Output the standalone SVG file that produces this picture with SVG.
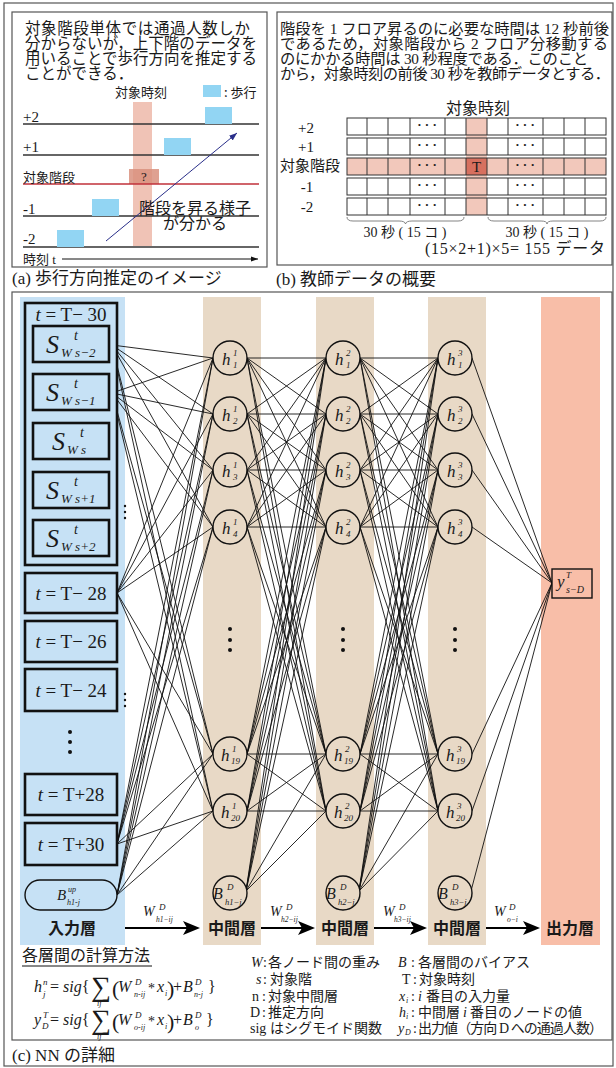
<svg xmlns="http://www.w3.org/2000/svg" width="616" height="1068" viewBox="0 0 616 1068">
<defs>
<style>
text{fill:#1a1a1a}
.s{font-family:"Liberation Serif","Noto Sans CJK JP",serif}
.j{font-family:"Noto Sans CJK JP","Noto Sans CJK SC",sans-serif}
.i{font-style:italic}
.box{fill:#c6e1f5;stroke:#111;stroke-width:2.6}
.node{fill:#e8d9c6;stroke:#111;stroke-width:1.4}
.ln{fill:none;stroke:#111;stroke-width:0.9}
.frame{fill:none;stroke:#555;stroke-width:1.2}
.hl{fill:none;stroke:#333;stroke-width:1.4}
.walk{fill:#92d5f3}
.dot{fill:#111}
.arr{stroke:#000;stroke-width:2.2}
.ah{fill:#000}
.grid{fill:none;stroke:#333;stroke-width:1}
</style>
<marker id="nav" markerWidth="9" markerHeight="8" refX="8" refY="4" orient="auto" markerUnits="userSpaceOnUse"><path d="M0 1L8 4L0 7z" fill="#2a2f8a"/></marker>
<marker id="tm" markerWidth="8" markerHeight="8" refX="7" refY="4" orient="auto" markerUnits="userSpaceOnUse"><path d="M0 1.5L7 4L0 6.5z" fill="#111"/></marker>
</defs>
<rect x="0" y="0" width="616" height="1068" fill="#fff"/>
<rect x="4" y="3" width="609" height="1063" class="frame"/>

<!-- Panel (a) -->
<g id="panel-a">
<rect x="12" y="12" width="255" height="255" class="frame"/>
<text class="j" font-size="15.5">
<tspan x="25" y="34" textLength="225">対象階段単体では通過人数しか</tspan>
<tspan x="25" y="49" textLength="232">分からないが，上下階のデータを</tspan>
<tspan x="25" y="64" textLength="232">用いることで歩行方向を推定する</tspan>
<tspan x="25" y="79">ことができる．</tspan>
</text>
<text class="j" font-size="13" x="115" y="97" fill="#333">対象時刻</text>
<rect x="203" y="85" width="18" height="12" class="walk"/>
<text class="j" font-size="13" x="224" y="97">: 歩行</text>
<rect x="133" y="102" width="19" height="144" fill="#f0c3b6"/>
<rect x="129" y="169" width="30" height="15" fill="#d9907e" opacity="0.85"/>
<text class="s" font-size="13" x="144" y="181" text-anchor="middle" fill="#555">?</text>
<line x1="23" y1="124" x2="259" y2="124" class="hl" stroke="#666"/>
<line x1="23" y1="155" x2="259" y2="155" class="hl"/>
<line x1="23" y1="184" x2="259" y2="184" class="hl" style="stroke:#c0313a"/>
<line x1="23" y1="216" x2="259" y2="216" class="hl"/>
<line x1="23" y1="247" x2="259" y2="247" class="hl"/>
<rect x="205" y="107" width="27" height="17" class="walk"/>
<rect x="164" y="138" width="27" height="17" class="walk"/>
<rect x="92" y="199" width="27" height="17" class="walk"/>
<rect x="57" y="230" width="27" height="17" class="walk"/>
<text class="s" font-size="15" x="23" y="122">+2</text>
<text class="s" font-size="15" x="23" y="152">+1</text>
<text class="j" font-size="13" x="23" y="182">対象階段</text>
<text class="s" font-size="15" x="23" y="214">-1</text>
<text class="s" font-size="15" x="23" y="244">-2</text>
<line x1="106" y1="241" x2="237" y2="133" stroke="#2a2f8a" stroke-width="1" marker-end="url(#nav)"/>
<text class="j" font-size="16" x="139" y="214">階段を昇る様子</text>
<text class="j" font-size="16" x="163" y="229">が分かる</text>
<text class="s" font-size="13" x="23" y="264">時刻 t</text>
<line x1="62" y1="259" x2="258" y2="259" stroke="#111" stroke-width="1" marker-end="url(#tm)"/>
<text class="s" font-size="17" x="12" y="284">(a) 歩行方向推定のイメージ</text>
</g>

<!-- Panel (b) -->
<g id="panel-b">
<rect x="277" y="12" width="335" height="253" class="frame"/>
<text class="s" font-size="15.3">
<tspan x="280" y="34" textLength="329">階段を 1 フロア昇るのに必要な時間は 12 秒前後</tspan>
<tspan x="280" y="49" textLength="328">であるため，対象階段から 2 フロア分移動する</tspan>
<tspan x="280" y="64" textLength="308">のにかかる時間は 30 秒程度である．このこと</tspan>
<tspan x="280" y="79" textLength="330">から，対象時刻の前後 30 秒を教師データとする．</tspan>
</text>
<text class="j" font-size="16" x="478" y="114" text-anchor="middle">対象時刻</text>
<rect x="347" y="118" width="259" height="17" fill="#fff"/>
<rect x="347" y="138" width="259" height="17" fill="#fff"/>
<rect x="347" y="158" width="259" height="17" fill="#f2c8bb"/>
<rect x="347" y="178" width="259" height="17" fill="#fff"/>
<rect x="347" y="198" width="259" height="17" fill="#fff"/>
<rect x="466" y="118" width="21" height="97" fill="#f2c8bb"/>
<rect x="466" y="158" width="21" height="17" fill="#d7705f"/>
<rect x="347" y="118" width="259" height="17" class="grid"/>
<rect x="347" y="138" width="259" height="17" class="grid"/>
<rect x="347" y="158" width="259" height="17" class="grid"/>
<rect x="347" y="178" width="259" height="17" class="grid"/>
<rect x="347" y="198" width="259" height="17" class="grid"/>
<path class="grid" d="M367 118v17m0 3v17m0 3v17m0 3v17m0 3v17M388 118v17m0 3v17m0 3v17m0 3v17m0 3v17M410 118v17m0 3v17m0 3v17m0 3v17m0 3v17M445 118v17m0 3v17m0 3v17m0 3v17m0 3v17M466 118v17m0 3v17m0 3v17m0 3v17m0 3v17M487 118v17m0 3v17m0 3v17m0 3v17m0 3v17M508 118v17m0 3v17m0 3v17m0 3v17m0 3v17M543 118v17m0 3v17m0 3v17m0 3v17m0 3v17M564 118v17m0 3v17m0 3v17m0 3v17m0 3v17M585 118v17m0 3v17m0 3v17m0 3v17m0 3v17"/>
<g class="s" font-size="13" font-weight="bold" text-anchor="middle">
<text x="427" y="129">· · ·</text><text x="525" y="129">· · ·</text>
<text x="427" y="149">· · ·</text><text x="525" y="149">· · ·</text>
<text x="427" y="169">· · ·</text><text x="525" y="169">· · ·</text>
<text x="427" y="189">· · ·</text><text x="525" y="189">· · ·</text>
<text x="427" y="209">· · ·</text><text x="525" y="209">· · ·</text>
</g>
<text class="s" font-size="15" x="476.5" y="172" text-anchor="middle">T</text>
<text class="s" font-size="15" x="306" y="133" text-anchor="middle">+2</text>
<text class="s" font-size="15" x="306" y="152" text-anchor="middle">+1</text>
<text class="j" font-size="15" x="280" y="171">対象階段</text>
<text class="s" font-size="15" x="307" y="192" text-anchor="middle">-1</text>
<text class="s" font-size="15" x="307" y="212" text-anchor="middle">-2</text>
<path d="M347 217Q347 221 353 221L399 221Q405 221 405.5 224Q406 221 412 221L458 221Q464 221 464 217" fill="none" stroke="#777" stroke-width="0.9"/>
<path d="M488 217Q488 221 494 221L541 221Q547 221 547 224Q547 221 553 221L600 221Q606 221 606 217" fill="none" stroke="#777" stroke-width="0.9"/>
<text class="s" font-size="14" x="405" y="237" text-anchor="middle">30 秒 ( 15 コ )</text>
<text class="s" font-size="14" x="547" y="237" text-anchor="middle">30 秒 ( 15 コ )</text>
<text class="s" font-size="16" x="425" y="254" textLength="180">(15×2+1)×5= 155 データ</text>
<text class="s" font-size="17" x="276" y="285">(b) 教師データの概要</text>
</g>

<!-- Panel (c) -->
<g id="panel-c-bg">
<rect x="12" y="292" width="600" height="748" class="frame"/>
<rect x="20" y="297" width="105" height="648" fill="#c6e1f5"/>
<rect x="203" y="297" width="58" height="648" fill="#e8d9c6"/>
<rect x="316" y="297" width="58" height="648" fill="#e8d9c6"/>
<rect x="428" y="297" width="58" height="648" fill="#e8d9c6"/>
<rect x="541" y="297" width="59" height="648" fill="#f8bea8"/>
</g>

<g id="connectors">
<path class="ln" d="M112 345L213 358M112 345L213 414M112 345L213 470M112 345L213 527M112 345L213 754M112 345L213 811M112 393L213 358M112 393L213 414M112 393L213 470M112 393L213 527M112 393L213 754M112 393L213 811M117 593L213 358M117 593L213 414M117 593L213 470M117 593L213 527M117 593L213 754M117 593L213 811M117 844L213 358M117 844L213 414M117 844L213 470M117 844L213 527M117 844L213 754M117 844L213 811M117 895L213 358M117 895L213 414M117 895L213 470M117 895L213 527M117 895L213 754M117 895L213 811"/>
<path class="ln" d="M247 358L326 358M247 358L326 414M247 358L326 470M247 358L326 527M247 358L326 754M247 358L326 811M247 414L326 358M247 414L326 414M247 414L326 470M247 414L326 527M247 414L326 754M247 414L326 811M247 470L326 358M247 470L326 414M247 470L326 470M247 470L326 527M247 470L326 754M247 470L326 811M247 527L326 358M247 527L326 414M247 527L326 470M247 527L326 527M247 527L326 754M247 527L326 811M247 754L326 358M247 754L326 414M247 754L326 470M247 754L326 527M247 754L326 754M247 754L326 811M247 811L326 358M247 811L326 414M247 811L326 470M247 811L326 527M247 811L326 754M247 811L326 811M246 891L326 358M246 891L326 414M246 891L326 470M246 891L326 527M246 891L326 754M246 891L326 811"/>
<path class="ln" d="M360 358L438 358M360 358L438 414M360 358L438 470M360 358L438 527M360 358L438 754M360 358L438 811M360 414L438 358M360 414L438 414M360 414L438 470M360 414L438 527M360 414L438 754M360 414L438 811M360 470L438 358M360 470L438 414M360 470L438 470M360 470L438 527M360 470L438 754M360 470L438 811M360 527L438 358M360 527L438 414M360 527L438 470M360 527L438 527M360 527L438 754M360 527L438 811M360 754L438 358M360 754L438 414M360 754L438 470M360 754L438 527M360 754L438 754M360 754L438 811M360 811L438 358M360 811L438 414M360 811L438 470M360 811L438 527M360 811L438 754M360 811L438 811M359 891L438 358M359 891L438 414M359 891L438 470M359 891L438 527M359 891L438 754M359 891L438 811"/>
<path class="ln" d="M472 358L552 583M472 414L552 583M472 470L552 583M472 527L552 583M472 754L552 583M472 811L552 583M471 891L552 583"/>
<line x1="125" y1="928" x2="188" y2="928" class="arr"/><path class="ah" d="M200 928L183 921L187 928L183 935z"/>
<line x1="261" y1="928" x2="303" y2="928" class="arr"/><path class="ah" d="M315 928L298 921L302 928L298 935z"/>
<line x1="374" y1="928" x2="415" y2="928" class="arr"/><path class="ah" d="M427 928L410 921L414 928L410 935z"/>
<line x1="486" y1="928" x2="528" y2="928" class="arr"/><path class="ah" d="M540 928L523 921L527 928L523 935z"/>
</g>

<g id="input-layer">
<rect x="25" y="303" width="92" height="262" class="box"/>
<text class="s" font-size="19" x="71" y="321" text-anchor="middle"><tspan class="i">t</tspan> = T− 30</text>
<g id="in-s-2"><rect x="33" y="326" width="76" height="36" class="box"/><text class="s i" font-size="26" x="46" y="353">S</text><text class="s i" font-size="14" x="74" y="340">t</text><text class="s i" font-size="13" x="61" y="357">W s−2</text></g>
<g id="in-s-1"><rect x="33" y="374" width="76" height="36" class="box"/><text class="s i" font-size="26" x="46" y="401">S</text><text class="s i" font-size="14" x="74" y="388">t</text><text class="s i" font-size="13" x="61" y="405">W s−1</text></g>
<g id="in-s"><rect x="33" y="423" width="76" height="36" class="box"/><text class="s i" font-size="26" x="52" y="450">S</text><text class="s i" font-size="14" x="80" y="437">t</text><text class="s i" font-size="13" x="67" y="454">W s</text></g>
<g id="in-s+1"><rect x="33" y="472" width="76" height="36" class="box"/><text class="s i" font-size="26" x="46" y="499">S</text><text class="s i" font-size="14" x="74" y="486">t</text><text class="s i" font-size="13" x="61" y="503">W s+1</text></g>
<g id="in-s+2"><rect x="33" y="520" width="76" height="36" class="box"/><text class="s i" font-size="26" x="46" y="547">S</text><text class="s i" font-size="14" x="74" y="534">t</text><text class="s i" font-size="13" x="61" y="551">W s+2</text></g>
<g id="in-t-28"><rect x="25" y="573" width="92" height="40" class="box"/><text class="s" font-size="19" x="71" y="600" text-anchor="middle"><tspan class="i">t</tspan> = T− 28</text></g>
<g id="in-t-26"><rect x="25" y="621" width="92" height="41" class="box"/><text class="s" font-size="19" x="71" y="648" text-anchor="middle"><tspan class="i">t</tspan> = T− 26</text></g>
<g id="in-t-24"><rect x="25" y="669" width="92" height="42" class="box"/><text class="s" font-size="19" x="71" y="697" text-anchor="middle"><tspan class="i">t</tspan> = T− 24</text></g>
<circle cx="70" cy="732" r="2" class="dot"/><circle cx="70" cy="742" r="2" class="dot"/><circle cx="70" cy="752" r="2" class="dot"/>
<g id="in-t+28"><rect x="25" y="774" width="92" height="41" class="box"/><text class="s" font-size="19" x="71" y="801" text-anchor="middle"><tspan class="i">t</tspan> = T+28</text></g>
<g id="in-t+30"><rect x="25" y="823" width="92" height="42" class="box"/><text class="s" font-size="19" x="71" y="851" text-anchor="middle"><tspan class="i">t</tspan> = T+30</text></g>
<g id="in-bias"><rect x="25" y="880" width="92" height="30" rx="15" fill="#c6e1f5" stroke="#111" stroke-width="1.4"/><text class="s i" font-size="15" x="57" y="900">B</text><text class="s i" font-size="8" x="68" y="892">up</text><text class="s i" font-size="8" x="67" y="905">h1-j</text></g>
<circle cx="125" cy="506" r="1.2" class="dot"/><circle cx="125" cy="512" r="1.2" class="dot"/><circle cx="125" cy="518" r="1.2" class="dot"/>
<circle cx="125" cy="694" r="1.2" class="dot"/><circle cx="125" cy="700" r="1.2" class="dot"/><circle cx="125" cy="706" r="1.2" class="dot"/>
<text class="j" font-size="16" font-weight="bold" x="72" y="934" text-anchor="middle">入力層</text>
</g>

<g id="hidden-1">
<g id="h1-1"><circle cx="230" cy="358" r="17" class="node"/><text class="s i" font-size="17" x="222" y="365">h</text><text class="s i" font-size="9" x="233" y="356">1</text><text class="s i" font-size="9" x="233" y="368">1</text></g>
<g id="h1-2"><circle cx="230" cy="414" r="17" class="node"/><text class="s i" font-size="17" x="222" y="421">h</text><text class="s i" font-size="9" x="233" y="412">1</text><text class="s i" font-size="9" x="233" y="424">2</text></g>
<g id="h1-3"><circle cx="230" cy="470" r="17" class="node"/><text class="s i" font-size="17" x="222" y="477">h</text><text class="s i" font-size="9" x="233" y="468">1</text><text class="s i" font-size="9" x="233" y="480">3</text></g>
<g id="h1-4"><circle cx="230" cy="527" r="17" class="node"/><text class="s i" font-size="17" x="222" y="534">h</text><text class="s i" font-size="9" x="233" y="525">1</text><text class="s i" font-size="9" x="233" y="537">4</text></g>
<circle cx="230" cy="629" r="2" class="dot"/><circle cx="230" cy="640" r="2" class="dot"/><circle cx="230" cy="650" r="2" class="dot"/>
<g id="h1-19"><circle cx="230" cy="754" r="17" class="node"/><text class="s i" font-size="17" x="221" y="761">h</text><text class="s i" font-size="9" x="232" y="752">1</text><text class="s i" font-size="9" x="231" y="764">19</text></g>
<g id="h1-20"><circle cx="230" cy="811" r="17" class="node"/><text class="s i" font-size="17" x="221" y="818">h</text><text class="s i" font-size="9" x="232" y="809">1</text><text class="s i" font-size="9" x="231" y="821">20</text></g>
<g id="b1"><circle cx="230" cy="893" r="17" class="node"/><text class="s i" font-size="16" x="213" y="899">B</text><text class="s i" font-size="9" x="227" y="890">D</text><text class="s i" font-size="8.5" x="225" y="905">h1−j</text></g>
<text class="j" font-size="16" font-weight="bold" x="232" y="934" text-anchor="middle">中間層</text>
</g>

<g id="hidden-2">
<g id="h2-1"><circle cx="343" cy="358" r="17" class="node"/><text class="s i" font-size="17" x="335" y="365">h</text><text class="s i" font-size="9" x="346" y="356">2</text><text class="s i" font-size="9" x="346" y="368">1</text></g>
<g id="h2-2"><circle cx="343" cy="414" r="17" class="node"/><text class="s i" font-size="17" x="335" y="421">h</text><text class="s i" font-size="9" x="346" y="412">2</text><text class="s i" font-size="9" x="346" y="424">2</text></g>
<g id="h2-3"><circle cx="343" cy="470" r="17" class="node"/><text class="s i" font-size="17" x="335" y="477">h</text><text class="s i" font-size="9" x="346" y="468">2</text><text class="s i" font-size="9" x="346" y="480">3</text></g>
<g id="h2-4"><circle cx="343" cy="527" r="17" class="node"/><text class="s i" font-size="17" x="335" y="534">h</text><text class="s i" font-size="9" x="346" y="525">2</text><text class="s i" font-size="9" x="346" y="537">4</text></g>
<circle cx="343" cy="629" r="2" class="dot"/><circle cx="343" cy="640" r="2" class="dot"/><circle cx="343" cy="650" r="2" class="dot"/>
<g id="h2-19"><circle cx="343" cy="754" r="17" class="node"/><text class="s i" font-size="17" x="334" y="761">h</text><text class="s i" font-size="9" x="345" y="752">2</text><text class="s i" font-size="9" x="344" y="764">19</text></g>
<g id="h2-20"><circle cx="343" cy="811" r="17" class="node"/><text class="s i" font-size="17" x="334" y="818">h</text><text class="s i" font-size="9" x="345" y="809">2</text><text class="s i" font-size="9" x="344" y="821">20</text></g>
<g id="b2"><circle cx="343" cy="893" r="17" class="node"/><text class="s i" font-size="16" x="326" y="899">B</text><text class="s i" font-size="9" x="340" y="890">D</text><text class="s i" font-size="8.5" x="338" y="905">h2−j</text></g>
<text class="j" font-size="16" font-weight="bold" x="345" y="934" text-anchor="middle">中間層</text>
</g>

<g id="hidden-3">
<g id="h3-1"><circle cx="455" cy="358" r="17" class="node"/><text class="s i" font-size="17" x="447" y="365">h</text><text class="s i" font-size="9" x="458" y="356">3</text><text class="s i" font-size="9" x="458" y="368">1</text></g>
<g id="h3-2"><circle cx="455" cy="414" r="17" class="node"/><text class="s i" font-size="17" x="447" y="421">h</text><text class="s i" font-size="9" x="458" y="412">3</text><text class="s i" font-size="9" x="458" y="424">2</text></g>
<g id="h3-3"><circle cx="455" cy="470" r="17" class="node"/><text class="s i" font-size="17" x="447" y="477">h</text><text class="s i" font-size="9" x="458" y="468">3</text><text class="s i" font-size="9" x="458" y="480">3</text></g>
<g id="h3-4"><circle cx="455" cy="527" r="17" class="node"/><text class="s i" font-size="17" x="447" y="534">h</text><text class="s i" font-size="9" x="458" y="525">3</text><text class="s i" font-size="9" x="458" y="537">4</text></g>
<circle cx="455" cy="629" r="2" class="dot"/><circle cx="455" cy="640" r="2" class="dot"/><circle cx="455" cy="650" r="2" class="dot"/>
<g id="h3-19"><circle cx="455" cy="754" r="17" class="node"/><text class="s i" font-size="17" x="446" y="761">h</text><text class="s i" font-size="9" x="457" y="752">3</text><text class="s i" font-size="9" x="456" y="764">19</text></g>
<g id="h3-20"><circle cx="455" cy="811" r="17" class="node"/><text class="s i" font-size="17" x="446" y="818">h</text><text class="s i" font-size="9" x="457" y="809">3</text><text class="s i" font-size="9" x="456" y="821">20</text></g>
<g id="b3"><circle cx="455" cy="893" r="17" class="node"/><text class="s i" font-size="16" x="438" y="899">B</text><text class="s i" font-size="9" x="452" y="890">D</text><text class="s i" font-size="8.5" x="450" y="905">h3−j</text></g>
<text class="j" font-size="16" font-weight="bold" x="457" y="934" text-anchor="middle">中間層</text>
</g>

<g id="output">
<rect x="552" y="569" width="40" height="29" fill="#f8bea8" stroke="#111" stroke-width="1.4"/>
<text class="s i" font-size="17" x="557" y="587">y</text><text class="s i" font-size="9" x="566" y="578">T</text><text class="s i" font-size="10" x="566" y="593">s−D</text>
<text class="j" font-size="16" font-weight="bold" x="570" y="934" text-anchor="middle">出力層</text>
</g>

<g id="weight-labels">
<text class="s i" font-size="14" x="143" y="916">W</text><text class="s i" font-size="9" x="159" y="910">D</text><text class="s i" font-size="7.5" x="156" y="922">h1−ij</text>
<text class="s i" font-size="14" x="270" y="916">W</text><text class="s i" font-size="9" x="286" y="910">D</text><text class="s i" font-size="7.5" x="281" y="922">h2−ij</text>
<text class="s i" font-size="14" x="383" y="916">W</text><text class="s i" font-size="9" x="399" y="910">D</text><text class="s i" font-size="7.5" x="394" y="922">h3−ij</text>
<text class="s i" font-size="14" x="494" y="916">W</text><text class="s i" font-size="9" x="509" y="910">D</text><text class="s i" font-size="7.5" x="507" y="922">o−i</text>
</g>

<g id="formulas">
<text class="j" font-size="16" x="22" y="961">各層間の計算方法</text>
<line x1="22" y1="966" x2="152" y2="966" stroke="#111" stroke-width="1"/>
<text class="s i" font-size="16" x="34" y="992">h</text><text class="s i" font-size="9" x="43" y="985">n</text><text class="s i" font-size="9" x="43" y="997">j</text>
<text class="s" font-size="16" x="50" y="992">= <tspan class="i">sig</tspan>{</text>
<text class="s" font-size="28" x="91" y="996">∑</text><text class="s i" font-size="8" x="97" y="1006">ij</text>
<text class="s" font-size="22" x="112" y="996">(</text>
<text class="s i" font-size="16" x="118" y="992">W</text><text class="s i" font-size="9" x="135" y="985">D</text><text class="s i" font-size="8" x="134" y="997">n-ij</text>
<text class="s" font-size="14" x="148" y="993">*</text>
<text class="s i" font-size="16" x="157" y="992">x</text><text class="s i" font-size="8" x="165" y="996">i</text>
<text class="s" font-size="22" x="167" y="996">)</text>
<text class="s" font-size="16" x="173" y="992">+</text>
<text class="s i" font-size="16" x="183" y="992">B</text><text class="s i" font-size="9" x="195" y="985">D</text><text class="s i" font-size="8" x="194" y="997">n-j</text>
<text class="s" font-size="16" x="208" y="992">}</text>

<text class="s i" font-size="16" x="34" y="1025">y</text><text class="s i" font-size="9" x="43" y="1018">T</text><text class="s i" font-size="9" x="42" y="1029">D</text>
<text class="s" font-size="16" x="50" y="1025">= <tspan class="i">sig</tspan>{</text>
<text class="s" font-size="28" x="91" y="1029">∑</text><text class="s i" font-size="8" x="97" y="1039">ij</text>
<text class="s" font-size="22" x="112" y="1029">(</text>
<text class="s i" font-size="16" x="118" y="1025">W</text><text class="s i" font-size="9" x="135" y="1018">D</text><text class="s i" font-size="8" x="134" y="1030">o-ij</text>
<text class="s" font-size="14" x="148" y="1026">*</text>
<text class="s i" font-size="16" x="157" y="1025">x</text><text class="s i" font-size="8" x="165" y="1029">i</text>
<text class="s" font-size="22" x="167" y="1029">)</text>
<text class="s" font-size="16" x="173" y="1025">+</text>
<text class="s i" font-size="16" x="183" y="1025">B</text><text class="s i" font-size="9" x="195" y="1018">D</text><text class="s i" font-size="8" x="195" y="1030">o</text>
<text class="s" font-size="16" x="206" y="1025">}</text>
</g>

<g id="legend" class="s" font-size="14">
<text y="967"><tspan x="251" class="i">W</tspan><tspan x="263">:</tspan><tspan x="268">各ノード間の重み</tspan></text>
<text y="984"><tspan x="256" class="i">s</tspan><tspan x="263">:</tspan><tspan x="270">対象階</tspan></text>
<text y="1001"><tspan x="252">n</tspan><tspan x="262">:</tspan><tspan x="268">対象中間層</tspan></text>
<text y="1017"><tspan x="250">D</tspan><tspan x="262">:</tspan><tspan x="268">推定方向</tspan></text>
<text y="1033"><tspan x="250">sig</tspan><tspan x="270">はシグモイド関数</tspan></text>
<text y="967"><tspan x="398" class="i">B</tspan><tspan x="411">:</tspan><tspan x="418">各層間のバイアス</tspan></text>
<text y="984"><tspan x="402">T</tspan><tspan x="413">:</tspan><tspan x="419">対象時刻</tspan></text>
<text y="1001"><tspan x="399" class="i">x</tspan><tspan x="406" font-size="8" class="i" dy="2">i</tspan><tspan x="411" dy="-2">:</tspan><tspan x="418" class="i">i</tspan><tspan x="426">番目の入力量</tspan></text>
<text y="1017"><tspan x="399" class="i">h</tspan><tspan x="406" font-size="8" class="i" dy="2">i</tspan><tspan x="411" dy="-2">:</tspan><tspan x="418">中間層</tspan><tspan x="463" class="i">i</tspan><tspan x="470">番目のノードの値</tspan></text>
<text y="1033"><tspan x="398" class="i">y</tspan><tspan x="405" font-size="8" class="i" dy="2">D</tspan><tspan x="413" dy="-2">:</tspan><tspan x="418" textLength="185">出力値（方向 D への通過人数）</tspan></text>
</g>
<text class="s" font-size="17" x="12" y="1061">(c) NN の詳細</text>
</svg>
